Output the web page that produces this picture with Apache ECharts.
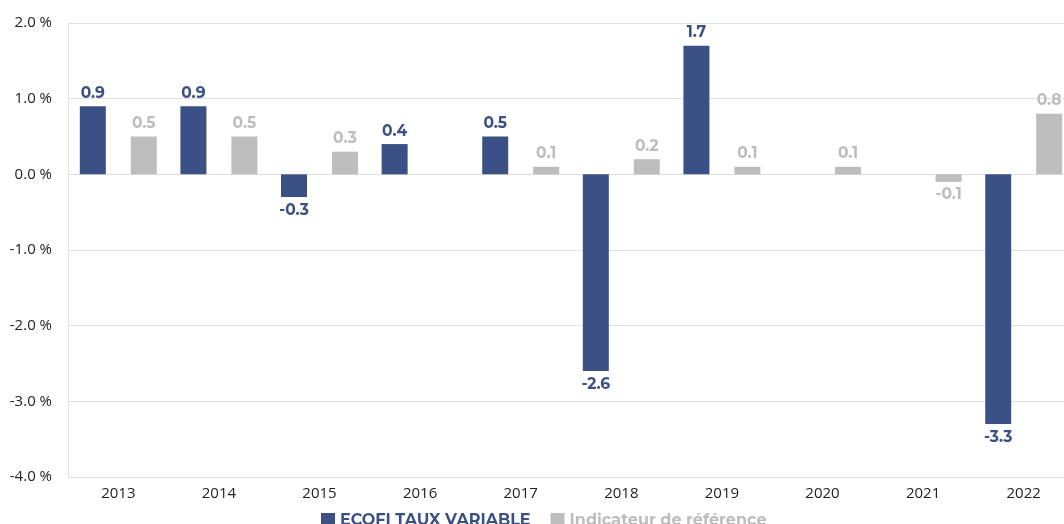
<!DOCTYPE html>
<html><head><meta charset="utf-8">
<script src="https://cdn.jsdelivr.net/npm/echarts@6/dist/echarts.min.js"></script>
<style>html,body{margin:0;padding:0;background:#fff}#c{width:1064px;height:524px}</style>
</head><body><div id="c"></div>
<script>
const categories = ['2013','2014','2015','2016','2017','2018','2019','2020','2021','2022'];
const ecofi = [0.9, 0.9, -0.3, 0.4, 0.5, -2.6, 1.7, null, null, -3.3];
const reference = [0.5, 0.5, 0.3, null, 0.1, 0.2, 0.1, 0.1, -0.1, 0.8];
const yTicks = [-4, -3, -2, -1, 0, 1, 2];
const seriesNames = ['ECOFI TAUX VARIABLE', 'Indicateur de référence'];
const colors = ['#3b5186', '#bdbdbd'];

const chart = echarts.init(document.getElementById('c'));
function lbl(color){
  return {
    show: true,
    color: color,
    fontFamily: 'Montserrat, "Open Sans", sans-serif',
    fontWeight: 'bold',
    fontSize: 15.5,
    distance: 5,
    formatter: p => p.value.toFixed(1)
  };
}
function mk(name, data, color){
  return {
    name: name, type: 'bar', barWidth: 26, barGap: '96%',
    itemStyle: {color: color},
    data: data.map(v => v === null ? '-' : {
      value: v,
      label: Object.assign(lbl(color), {position: v < 0 ? 'bottom' : 'top'})
    })
  };
}
chart.setOption({
  animation: false,
  color: colors,
  grid: {left: 68, width: 1006, top: 23, height: 454, containLabel: false, outerBoundsMode: 'none'},
  legend: {
    top: 507, left: 316, itemWidth: 14, itemHeight: 14, itemGap: 20,
    icon: 'rect',
    data: seriesNames.map((n,i)=>({name:n, textStyle:{color: colors[i]}})),
    textStyle: {fontFamily: 'Montserrat, "Open Sans", sans-serif', fontWeight: 'bold', fontSize: 16}
  },
  xAxis: {
    type: 'category', data: categories, position: 'bottom',
    axisLine: {onZero: false, lineStyle: {color: '#e0e0e0', width: 1}},
    axisTick: {show: false},
    axisLabel: {color: '#222', fontFamily: '"Open Sans", sans-serif', fontSize: 15, margin: 9}
  },
  yAxis: {
    type: 'value', min: yTicks[0], max: yTicks[yTicks.length-1], interval: 1,
    axisLine: {show: true, lineStyle: {color: '#e0e0e0'}},
    axisTick: {show: false},
    splitLine: {lineStyle: {color: '#e0e0e0'}},
    axisLabel: {color: '#222', fontFamily: '"Open Sans", sans-serif', fontSize: 15, margin: 16,
      formatter: v => v.toFixed(1) + ' %'}
  },
  series: [mk(seriesNames[0], ecofi, colors[0]), mk(seriesNames[1], reference, colors[1])]
});
</script></body></html>
